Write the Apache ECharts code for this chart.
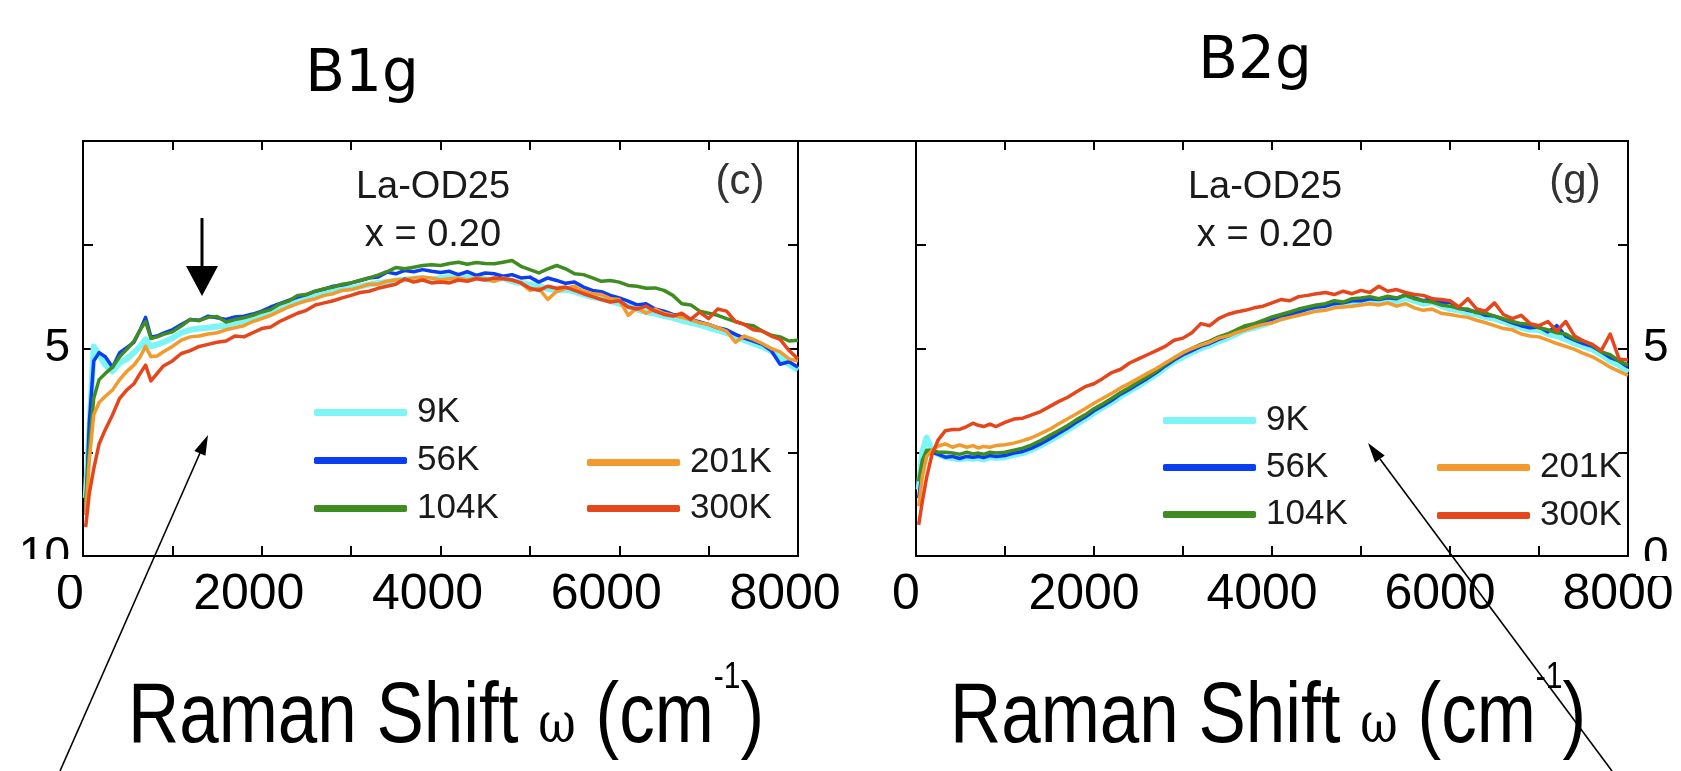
<!DOCTYPE html>
<html>
<head>
<meta charset="utf-8">
<script src="https://cdn.jsdelivr.net/npm/echarts@6/dist/echarts.min.js"></script>
<style>
html,body{margin:0;padding:0;background:#fff;}
#c{width:1681px;height:771px;}
</style>
</head>
<body>
<div id="c"></div>
<script>
// Raman shift (cm^-1) sample positions, shared by both panels
const X = [30,70,120,180,250,330,410,490,570,640,700,760,830,900,
1000,1100,1200,1300,1400,1500,1600,1700,1800,1900,
2000,2100,2200,2300,2400,2500,2600,2700,2800,2900,
3000,3100,3200,3300,3400,3500,3600,3700,3800,3900,
4000,4100,4200,4300,4400,4500,4600,4700,4800,4900,
5000,5100,5200,5300,5400,5500,5600,5700,5800,5900,
6000,6100,6200,6300,6400,6500,6600,6700,6800,6900,
7000,7100,7200,7300,7400,7500,7600,7700,7800,7900,
8000];

const SERIES_NAMES = ['9K','56K','104K','201K','300K'];
const SERIES_COLORS = ['#7df4f6','#0a3ef2','#3f8d20','#f29a2e','#e6461b'];

// B1g panel (c): left axis runs 0 (top) to 10 (bottom)
const B1g_9K = [8.6,7.0,4.95,5.15,5.4,5.55,5.35,5.25,5.1,4.95,4.78,4.95,4.9,4.85,
4.75,4.62,4.55,4.52,4.5,4.47,4.45,4.38,4.34,4.28,
4.22,4.12,4.02,3.93,3.86,3.78,3.73,3.67,3.61,3.57,
3.55,3.5,3.46,3.42,3.4,3.36,3.34,3.32,3.3,3.34,
3.3,3.28,3.31,3.29,3.27,3.33,3.35,3.3,3.38,3.42,
3.46,3.5,3.56,3.6,3.58,3.63,3.7,3.76,3.8,3.86,
3.92,3.98,4.06,4.12,4.16,4.22,4.26,4.33,4.38,4.43,
4.5,4.56,4.63,4.7,4.8,4.88,4.96,5.06,5.22,5.38,
5.52];
const B1g_56K = [9.0,6.8,5.3,5.1,5.2,5.45,5.1,4.98,4.85,4.55,4.25,4.72,4.7,4.63,
4.55,4.42,4.3,4.32,4.22,4.26,4.3,4.24,4.22,4.17,
4.1,4.0,3.92,3.84,3.76,3.7,3.62,3.57,3.5,3.47,
3.42,3.36,3.3,3.28,3.16,3.2,3.12,3.15,3.1,3.14,
3.17,3.14,3.22,3.15,3.24,3.18,3.2,3.26,3.22,3.3,
3.28,3.4,3.3,3.36,3.43,3.4,3.52,3.6,3.63,3.72,
3.78,3.86,3.95,3.92,4.05,4.1,4.18,4.2,4.3,4.36,
4.42,4.5,4.55,4.66,4.75,4.82,4.9,5.05,5.38,5.32,
5.45];
const B1g_104K = [8.7,7.4,6.2,5.75,5.6,5.45,5.2,5.02,4.82,4.55,4.35,4.76,4.72,4.66,
4.6,4.46,4.3,4.33,4.25,4.23,4.36,4.3,4.26,4.2,
4.12,4.06,3.93,3.86,3.72,3.7,3.62,3.56,3.52,3.45,
3.42,3.36,3.3,3.23,3.15,3.05,3.08,3.04,3.0,2.98,
3.0,2.95,2.92,2.97,2.93,2.95,2.96,2.92,2.88,3.02,
3.1,3.18,3.08,3.0,3.08,3.2,3.22,3.3,3.38,3.36,
3.4,3.48,3.5,3.55,3.54,3.6,3.72,3.92,3.95,4.1,
4.15,4.2,4.28,4.35,4.42,4.45,4.58,4.68,4.72,4.82,
4.8];
const B1g_201K = [9.0,7.7,6.6,6.3,6.15,6.0,5.75,5.55,5.4,5.2,4.95,5.2,5.18,5.08,
4.95,4.8,4.72,4.7,4.65,4.62,4.55,4.5,4.45,4.35,
4.28,4.2,4.1,4.0,3.92,3.85,3.8,3.72,3.68,3.6,
3.58,3.52,3.45,3.45,3.38,3.35,3.35,3.3,3.28,3.3,
3.35,3.32,3.3,3.35,3.3,3.32,3.38,3.3,3.35,3.42,
3.6,3.55,3.82,3.62,3.55,3.5,3.62,3.68,3.7,3.8,
3.82,4.2,4.02,4.15,4.05,4.15,4.2,4.25,4.3,4.38,
4.42,4.5,4.58,4.85,4.7,4.78,4.88,5.0,5.08,5.25,
5.3];
const B1g_300K = [9.3,8.5,7.9,7.3,6.95,6.6,6.2,6.0,5.85,5.6,5.4,5.78,5.6,5.42,
5.3,5.12,5.05,4.95,4.9,4.85,4.82,4.7,4.72,4.62,
4.52,4.48,4.35,4.25,4.15,4.08,3.95,3.9,3.85,3.78,
3.72,3.65,3.62,3.55,3.5,3.45,3.32,3.4,3.35,3.42,
3.4,3.42,3.35,3.38,3.32,3.35,3.3,3.32,3.35,3.42,
3.55,3.6,3.5,3.55,3.52,3.6,3.68,3.75,3.82,3.88,
3.85,4.0,4.05,3.98,4.1,4.18,4.22,4.15,4.3,4.12,
4.28,4.05,4.1,4.35,4.42,4.55,4.58,4.7,4.78,5.05,
5.25];

// B2g panel (g): right axis runs 0 (bottom) to 10 (top)
const B2g_9K = [1.6,2.5,2.85,2.55,2.45,2.38,2.36,2.33,2.36,2.34,2.36,2.33,2.38,2.36,
2.38,2.44,2.48,2.56,2.66,2.78,2.9,3.03,3.17,3.3,
3.45,3.58,3.7,3.85,3.98,4.1,4.24,4.38,4.54,4.68,
4.8,4.9,5.0,5.08,5.17,5.25,5.35,5.45,5.5,5.57,
5.65,5.72,5.78,5.83,5.9,5.95,5.98,6.03,6.05,6.1,
6.1,6.14,6.12,6.16,6.14,6.22,6.15,6.08,6.12,6.03,
5.95,5.92,5.86,5.82,5.75,5.72,5.65,5.57,5.5,5.45,
5.45,5.35,5.3,5.22,5.12,5.05,4.98,4.85,4.7,4.6,
4.42];
const B2g_56K = [1.4,2.0,2.45,2.5,2.45,2.38,2.4,2.35,2.4,2.38,2.4,2.37,2.42,2.4,
2.42,2.48,2.52,2.6,2.7,2.82,2.95,3.08,3.22,3.35,
3.5,3.62,3.75,3.9,4.02,4.15,4.28,4.42,4.58,4.72,
4.85,4.95,5.05,5.12,5.22,5.3,5.4,5.5,5.55,5.62,
5.7,5.78,5.82,5.88,5.95,6.0,6.02,6.08,6.1,6.15,
6.15,6.2,6.18,6.22,6.2,6.3,6.22,6.15,6.2,6.1,
6.12,5.98,5.92,5.88,5.8,5.78,5.7,5.62,5.55,5.5,
5.52,5.4,5.55,5.3,5.2,5.12,5.05,4.92,4.78,4.7,
4.55];
const B2g_104K = [1.8,2.3,2.55,2.55,2.5,2.5,2.48,2.45,2.5,2.46,2.48,2.45,2.5,2.48,
2.5,2.55,2.6,2.68,2.78,2.9,3.02,3.14,3.28,3.4,
3.55,3.67,3.8,3.94,4.06,4.2,4.32,4.46,4.62,4.76,
4.9,5.0,5.1,5.18,5.28,5.35,5.45,5.55,5.6,5.68,
5.76,5.82,5.88,5.95,6.0,6.05,6.08,6.15,6.12,6.2,
6.22,6.25,6.2,6.26,6.22,6.28,6.2,6.15,6.12,6.05,
6.02,5.96,5.95,5.86,5.85,5.78,5.72,5.65,5.6,5.58,
5.5,5.45,5.38,5.35,5.22,5.18,5.08,4.92,4.85,4.7,
4.6];
const B2g_201K = [1.2,1.9,2.4,2.55,2.65,2.7,2.62,2.68,2.62,2.66,2.6,2.64,2.62,2.66,
2.68,2.72,2.78,2.85,2.95,3.05,3.18,3.3,3.42,3.55,
3.68,3.8,3.92,4.05,4.16,4.28,4.4,4.52,4.65,4.78,
4.9,5.0,5.08,5.15,5.25,5.3,5.38,5.45,5.52,5.58,
5.62,5.7,5.75,5.8,5.85,5.9,5.92,5.98,6.0,6.02,
6.05,6.08,6.05,6.1,6.02,6.08,5.98,5.92,5.95,5.85,
5.82,5.78,5.75,5.68,5.62,5.55,5.48,5.45,5.35,5.3,
5.28,5.2,5.12,5.05,4.98,4.88,4.8,4.68,4.55,4.45,
4.35];
const B2g_300K = [0.75,1.3,1.9,2.45,2.8,3.02,3.05,3.05,3.12,3.2,3.15,3.12,3.18,3.12,
3.22,3.3,3.32,3.4,3.48,3.6,3.72,3.82,3.95,4.08,
4.15,4.28,4.42,4.5,4.65,4.75,4.85,4.95,5.05,5.2,
5.25,5.38,5.6,5.55,5.72,5.82,5.88,5.92,5.98,6.02,
6.1,6.18,6.15,6.25,6.28,6.32,6.35,6.3,6.38,6.32,
6.4,6.35,6.5,6.38,6.42,6.35,6.3,6.28,6.2,6.18,
6.15,6.0,6.2,5.95,5.9,6.1,5.82,5.72,5.8,5.6,
5.55,5.65,5.42,5.65,5.3,5.18,5.1,4.95,5.35,4.75,
4.72];

const X_TICK_LABELS = ['0','2000','4000','6000','8000'];
const B1G_Y_LABELS = ['5','10'];
const B2G_Y_LABELS = ['0','5'];

const B1G_DATA = [B1g_9K,B1g_56K,B1g_104K,B1g_201K,B1g_300K];
const B2G_DATA = [B2g_9K,B2g_56K,B2g_104K,B2g_201K,B2g_300K];

const FONT = "'Liberation Sans', Arial, sans-serif";

function pairs(arr){ return X.map((x,i)=>[x, arr[i]]); }

function xAxisBottom(grid, padRight){
  return {
    gridIndex: grid, type:'value', min:0, max:8000, interval:1000, position:'bottom',
    axisLine:{show:true, onZero:false, lineStyle:{color:'#000', width:2}},
    axisTick:{show:true, inside:true, length:10, lineStyle:{color:'#000', width:2}},
    splitLine:{show:false},
    axisLabel:{show:true, fontSize:50, color:'#000', fontFamily:FONT, margin:14,
      padding:[0,padRight,0,0],
      formatter: v => X_TICK_LABELS.indexOf(String(v))>=0 ? String(v) : ''}
  };
}
function xAxisTop(grid){
  return {
    gridIndex: grid, type:'value', min:0, max:8000, interval:1000, position:'top',
    axisLine:{show:true, onZero:false, lineStyle:{color:'#000', width:2}},
    axisTick:{show:true, inside:true, length:9, lineStyle:{color:'#000', width:2}},
    splitLine:{show:false}, axisLabel:{show:false}
  };
}
function yAxis(grid, pos, inverse, labels, margin){
  return {
    gridIndex: grid, type:'value', min:0, max:10, interval:2.5, position:pos, inverse:inverse,
    axisLine:{show:true, onZero:false, lineStyle:{color:'#000', width:2}},
    axisTick:{show:true, inside:true, length:10, lineStyle:{color:'#000', width:2}},
    splitLine:{show:false},
    axisLabel:{show: !!labels, fontSize:46, color:'#000', fontFamily:FONT, margin:margin||12,
      formatter: v => (labels && labels.indexOf(String(v))>=0) ? String(v) : ''}
  };
}

const series = [];
SERIES_NAMES.forEach((n,i)=>{
  series.push({name:n, type:'line', xAxisIndex:0, yAxisIndex:0, data:pairs(B1G_DATA[i]),
    showSymbol:false, symbol:'none', silent:true,
    lineStyle:{color:SERIES_COLORS[i], width: i===0?6:3.5, join:'round'}, itemStyle:{color:SERIES_COLORS[i]}});
});
SERIES_NAMES.forEach((n,i)=>{
  series.push({name:n, type:'line', xAxisIndex:2, yAxisIndex:3, data:pairs(B2G_DATA[i]),
    showSymbol:false, symbol:'none', silent:true,
    lineStyle:{color:SERIES_COLORS[i], width: i===0?6:3.5, join:'round'}, itemStyle:{color:SERIES_COLORS[i]}});
});

function legend(names, left, top, gap){
  return {data:names, orient:'vertical', left:left, top:top, itemGap:gap,
    itemWidth:93, itemHeight:7, icon:'roundRect', selectedMode:false,
    textStyle:{fontSize:35, color:'#1a1a1a', fontFamily:FONT, padding:[0,0,0,5]}};
}

function txt(text, x, y, size, fill){
  return {type:'text', z:100, style:{text:text, x:x, y:y,
    font: size+'px '+FONT, fill:fill||'#1a1a1a', align:'center', verticalAlign:'middle'}};
}

// x axis title, drawn as rich text (vertically stretched as in the figure)
const AXIS_TITLE = '{t|Raman Shift }{w|ω}{t| (cm}{s|-1}{t|)}';
function axisTitle(cx){
  return {type:'text', z:100, x:cx, y:719, scaleX:1, scaleY:1.2, originX:0, originY:0,
    style:{text:AXIS_TITLE, x:0, y:0, align:'center', verticalAlign:'middle', fill:'#000',
      rich:{
        t:{fontSize:71, fontFamily:FONT, fill:'#000', lineHeight:98},
        w:{fontSize:46, fontFamily:"'DejaVu Serif', serif", fill:'#000', padding:[14,0,0,0]},
        s:{fontSize:30, fontFamily:FONT, fill:'#000', verticalAlign:'top'}
      }}};
}

const option = {
  animation:false,
  backgroundColor:'#fff',
  grid:[
    {left:83, top:141, width:715, height:415, containLabel:false},
    {left:916, top:141, width:712, height:415, containLabel:false}
  ],
  xAxis:[xAxisBottom(0,26), xAxisTop(0), xAxisBottom(1,20), xAxisTop(1)],
  yAxis:[yAxis(0,'left',true,B1G_Y_LABELS,13), yAxis(0,'right',true,null),
         yAxis(1,'left',false,null), yAxis(1,'right',false,B2G_Y_LABELS,15)],
  legend:[
    legend(['9K','56K','104K'], 309, 390, 13),
    legend(['201K','300K'], 582, 440, 11),
    legend(['9K','56K','104K'], 1158, 398, 12),
    legend(['201K','300K'], 1432, 445, 13)
  ],
  series:series,
  graphic:[
    {type:'text', z:100, style:{text:'B1g', x:362, y:76, font:"58px 'DejaVu Sans', sans-serif", fill:'#000', align:'center', verticalAlign:'middle'}},
    {type:'text', z:100, style:{text:'B2g', x:1255, y:63, font:"58px 'DejaVu Sans', sans-serif", fill:'#000', align:'center', verticalAlign:'middle'}},
    txt('La-OD25', 433, 188, 38),
    txt('x = 0.20', 433, 236, 38),
    txt('(c)', 740, 182, 42, '#333'),
    txt('La-OD25', 1265, 188, 38),
    txt('x = 0.20', 1265, 236, 38),
    txt('(g)', 1575, 182, 42, '#333'),
    axisTitle(446),
    axisTitle(1268),
    // connector of the top frame line between panels
    {type:'line', z:100, shape:{x1:798, y1:141, x2:916, y2:141}, style:{stroke:'#000', lineWidth:2}},
    // down arrow marking feature in B1g
    {type:'line', z:100, shape:{x1:202, y1:218, x2:202, y2:270}, style:{stroke:'#000', lineWidth:3}},
    {type:'polygon', z:100, shape:{points:[[186,266],[218,266],[202,296]]}, style:{fill:'#000'}},
    // slanted pointer arrows
    {type:'line', z:100, shape:{x1:60, y1:771, x2:200, y2:453}, style:{stroke:'#000', lineWidth:1.6}},
    {type:'polygon', z:100, shape:{points:[[208,435],[205.4,455.7],[194.4,450.9]]}, style:{fill:'#000'}},
    {type:'line', z:100, shape:{x1:1612, y1:771, x2:1380, y2:459}, style:{stroke:'#000', lineWidth:1.6}},
    {type:'polygon', z:100, shape:{points:[[1368,443],[1384.7,455.4],[1375.1,462.6]]}, style:{fill:'#000'}},
    // the scan cut off the lower part of the outer y labels
    {type:'rect', z:100, shape:{x:0, y:559, width:80, height:16}, style:{fill:'#fff'}},
    {type:'rect', z:100, shape:{x:1636, y:561, width:45, height:15}, style:{fill:'#fff'}}
  ]
};

const chart = echarts.init(document.getElementById('c'));
chart.setOption(option);
</script>
</body>
</html>
